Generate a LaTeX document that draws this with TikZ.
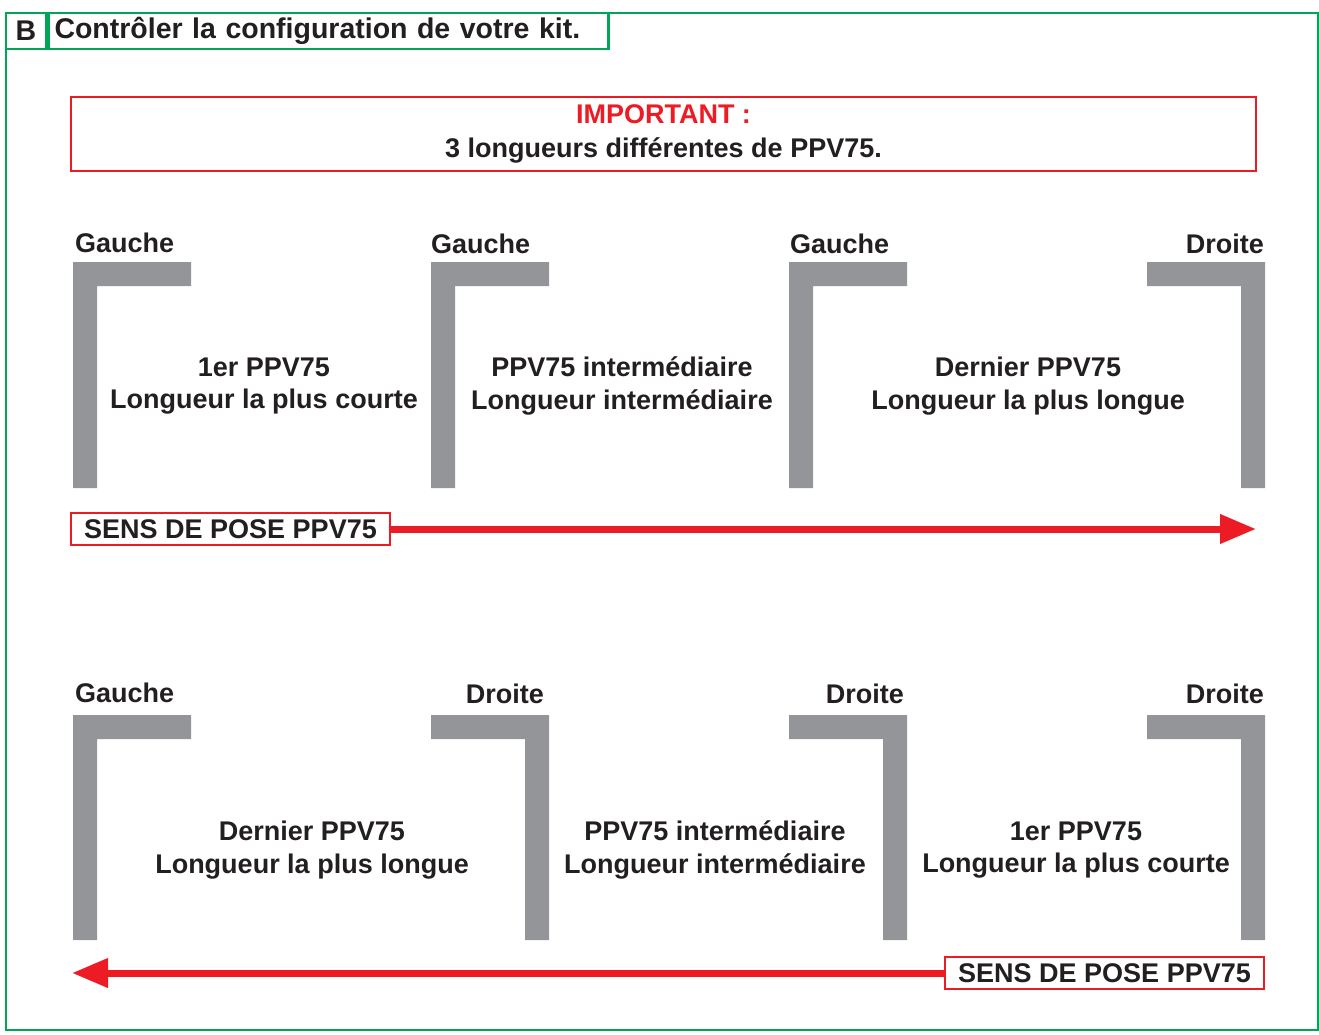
\documentclass[tikz,border=0pt]{standalone}
\usepackage{fontspec}
\setmainfont{Liberation Sans}
\usepackage{tikz}
\usetikzlibrary{arrows.meta, positioning}
\definecolor{vert}{HTML}{00A651}
\definecolor{rouge}{HTML}{ED1C24}
\definecolor{gris}{HTML}{939598}
\definecolor{encre}{HTML}{231F20}
\tikzset{
  cadre/.style={draw=vert, line width=2.5pt},
  texte/.style={font=\fontsize{27}{32}\selectfont\bfseries, text=encre, inner sep=0pt},
  boite/.style={texte, draw=rouge, line width=2pt, fill=white, minimum height=32pt},
  piece/.style={texte, align=center, font=\fontsize{27}{32.5}\selectfont\bfseries},
  profil/.style={fill=gris},
  sens/.style={draw=rouge, line width=7pt, -{Triangle[length=36pt,width=28pt]}}
}

\begin{document}
\begin{tikzpicture}[x=1pt, y=-1pt]
        \useasboundingbox (0,0) rectangle (1319,1034);

        % Cadre general
        \draw[cadre] (6,13) rectangle (1318,1030);
        \node[cadre, fill=white, texte, font=\fontsize{28.5}{32}\selectfont\bfseries,
              minimum width=40pt, minimum height=36pt] (lettre) at (26,31) {B};
        \node[cadre, fill=white, texte, font=\fontsize{28.5}{32}\selectfont\bfseries,
              minimum height=36pt, text width=548pt, inner xsep=6pt, align=left,
              right=0pt of lettre] (titre) {Contrôler la configuration de votre kit.};

        % Avertissement
        \node[boite, minimum width=1185pt, minimum height=74pt, align=center,
              font=\fontsize{27}{34}\selectfont\bfseries] (important) at (663.5,134)
              {\textcolor{rouge}{IMPORTANT :}\\3 longueurs différentes de PPV75.};

        % Premiere rangee : profils
        \fill[profil] (73,262) -- (191,262) -- (191,286) -- (97,286) -- (97,488) -- (73,488) -- cycle;
        \fill[profil, shift={(358,0)}] (73,262) -- (191,262) -- (191,286) -- (97,286) -- (97,488) -- (73,488) -- cycle;
        \fill[profil, shift={(716,0)}] (73,262) -- (191,262) -- (191,286) -- (97,286) -- (97,488) -- (73,488) -- cycle;
        \fill[profil] (1265,262) -- (1147,262) -- (1147,286) -- (1241,286) -- (1241,488) -- (1265,488) -- cycle;

        \node[texte, anchor=base west] (g1) at (75,252) {Gauche};
        \node[texte, anchor=base west] (g2) at (431,253) {Gauche};
        \node[texte, anchor=base west] (g3) at (790,253) {Gauche};
        \node[texte, anchor=base east] (d1) at (1264,253) {Droite};

        \node[piece] (court1) at (264,386) {1er PPV75\\Longueur la plus courte};
        \node[piece] (inter1) at (622,386) {PPV75 intermédiaire\\Longueur intermédiaire};
        \node[piece] (long1) at (1028,386) {Dernier PPV75\\Longueur la plus longue};

        % Sens de pose vers la droite
        \node[boite, minimum width=319pt] (sens1) at (230.5,529) {SENS DE POSE PPV75};
        \coordinate (fin1) at (1256,529);
        \draw[sens] (sens1.east) -- (fin1);

        % Deuxieme rangee : profils
        \fill[profil] (73,715) -- (191,715) -- (191,739) -- (97,739) -- (97,940) -- (73,940) -- cycle;
        \fill[profil, shift={(-716,0)}] (1265,715) -- (1147,715) -- (1147,739) -- (1241,739) -- (1241,940) -- (1265,940) -- cycle;
        \fill[profil, shift={(-358,0)}] (1265,715) -- (1147,715) -- (1147,739) -- (1241,739) -- (1241,940) -- (1265,940) -- cycle;
        \fill[profil] (1265,715) -- (1147,715) -- (1147,739) -- (1241,739) -- (1241,940) -- (1265,940) -- cycle;

        \node[texte, anchor=base west] (g4) at (75,702) {Gauche};
        \node[texte, anchor=base east] (d2) at (544,703) {Droite};
        \node[texte, anchor=base east] (d3) at (904,703) {Droite};
        \node[texte, anchor=base east] (d4) at (1264,703) {Droite};

        \node[piece] (long2) at (312,850) {Dernier PPV75\\Longueur la plus longue};
        \node[piece] (inter2) at (715,850) {PPV75 intermédiaire\\Longueur intermédiaire};
        \node[piece] (court2) at (1076,850) {1er PPV75\\Longueur la plus courte};

        % Sens de pose vers la gauche
        \node[boite, minimum width=319pt] (sens2) at (1104.5,973) {SENS DE POSE PPV75};
        \coordinate (fin2) at (72,973);
        \draw[sens] (sens2.west) -- (fin2);
\end{tikzpicture}
\end{document}
